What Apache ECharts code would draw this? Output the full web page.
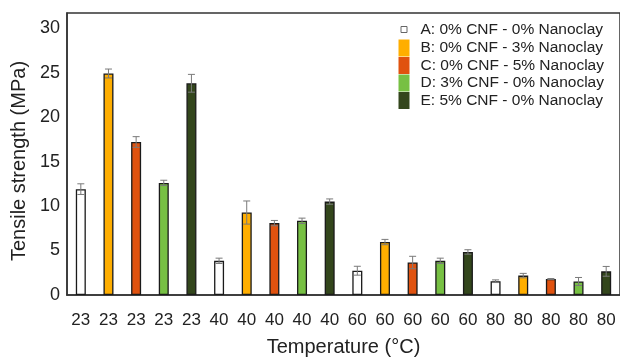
<!DOCTYPE html>
<html>
<head>
<meta charset="utf-8">
<script src="https://cdn.jsdelivr.net/npm/echarts@6/dist/echarts.min.js"></script>
<style>
html,body{margin:0;padding:0;background:#fff;}
#chart{width:620px;height:362px;}
</style>
</head>
<body>
<div id="chart"></div>
<script>
// Temperatures (°C) and groups
const temperatures = ['23', '40', '60', '80'];
const groupNames = [
  'A: 0% CNF - 0% Nanoclay',
  'B: 0% CNF - 3% Nanoclay',
  'C: 0% CNF - 5% Nanoclay',
  'D: 3% CNF - 0% Nanoclay',
  'E: 5% CNF - 0% Nanoclay'
];
// Tensile strength (MPa), one value per temperature
const valuesA = [11.9, 3.84, 2.73, 1.55];
const valuesB = [24.9, 9.27, 5.95, 2.18];
const valuesC = [17.2, 8.08, 3.65, 1.8];
const valuesD = [12.6, 8.34, 3.84, 1.52];
const valuesE = [23.8, 10.5, 4.84, 2.66];
// Error (± MPa)
const errorsA = [0.6, 0.3, 0.5, 0.15];
const errorsB = [0.5, 1.3, 0.3, 0.25];
const errorsC = [0.6, 0.3, 0.7, 0.05];
const errorsD = [0.3, 0.3, 0.3, 0.45];
const errorsE = [1.0, 0.3, 0.25, 0.55];
// y ticks
const yTicks = [0, 5, 10, 15, 20, 25, 30];

const colors = ['#ffffff', '#FFAE00', '#E0520F', '#77C043', '#33461C'];
const allValues = [valuesA, valuesB, valuesC, valuesD, valuesE];
const allErrors = [errorsA, errorsB, errorsC, errorsD, errorsE];
const nG = groupNames.length;

// categories: one per bar, ordered by temperature then group
const categories = [];
temperatures.forEach(t => groupNames.forEach(() => categories.push(t)));

const font = 'Arial, "Liberation Sans", Helvetica, sans-serif';

const barSeries = groupNames.map((name, gi) => ({
  name: name,
  type: 'bar',
  barWidth: 10,
  barGap: '-100%',
  z: 2,
  itemStyle: { color: colors[gi], borderColor: '#1a1a1a', borderWidth: 1.3 },
  data: categories.map((c, i) => (i % nG === gi ? allValues[gi][Math.floor(i / nG)] : '-'))
}));

const errData = [];
categories.forEach((c, i) => {
  const gi = i % nG, ti = Math.floor(i / nG);
  errData.push([i, allValues[gi][ti], allErrors[gi][ti]]);
});

const errSeries = {
  type: 'custom',
  z: 5,
  silent: true,
  data: errData,
  encode: { x: 0, y: 1 },
  renderItem: function (params, api) {
    const x = api.value(0), v = api.value(1), e = api.value(2);
    const hi = api.coord([x, v + e]);
    const lo = api.coord([x, v - e]);
    const hw = 3.5;
    const style = { stroke: '#7a7a7a', lineWidth: 1, fill: null };
    return {
      type: 'group',
      children: [
        { type: 'line', shape: { x1: hi[0], y1: hi[1], x2: lo[0], y2: lo[1] }, style: style },
        { type: 'line', shape: { x1: hi[0] - hw, y1: hi[1], x2: hi[0] + hw, y2: hi[1] }, style: style },
        { type: 'line', shape: { x1: lo[0] - hw, y1: lo[1], x2: lo[0] + hw, y2: lo[1] }, style: style }
      ]
    };
  }
};

const legendData = groupNames.map((name, gi) => gi === 0
  ? { name: name, icon: 'path://M0,0 M11,17 M2.5,5 h6 v6 h-6 z', itemStyle: { color: '#fff', borderColor: '#666', borderWidth: 1 } }
  : { name: name, icon: 'rect', itemStyle: { color: colors[gi], borderWidth: 0 } });

const chart = echarts.init(document.getElementById('chart'), null, { renderer: 'canvas' });
chart.setOption({
  animation: false,
  backgroundColor: '#fff',
  textStyle: { fontFamily: font },
  grid: { left: 67, right: -2, top: 13, bottom: 62, show: true, borderColor: '#333', borderWidth: 1.5, containLabel: false },
  legend: {
    orient: 'vertical',
    left: 398,
    top: 21,
    itemWidth: 11,
    itemHeight: 17,
    itemGap: 0.5,
    padding: 0,
    textStyle: { fontFamily: font, fontSize: 15.5, color: '#222', padding: [0, 0, 0, 6] },
    data: legendData
  },
  xAxis: {
    type: 'category',
    data: categories,
    name: 'Temperature (°C)',
    nameLocation: 'middle',
    nameGap: 42,
    nameTextStyle: { fontFamily: font, fontSize: 20, color: '#222' },
    axisLine: { show: true, lineStyle: { color: '#333', width: 1.5 } },
    axisTick: { show: false },
    axisLabel: { interval: 0, fontFamily: font, fontSize: 17, color: '#222', margin: 17 }
  },
  yAxis: {
    type: 'value',
    min: 0,
    max: 31.7,
    interval: 5,
    name: 'Tensile strength (MPa)',
    nameLocation: 'middle',
    nameGap: 31,
    nameTextStyle: { fontFamily: font, fontSize: 20, color: '#222', padding: [0, 14, 0, 0] },
    axisLine: { show: true, lineStyle: { color: '#333', width: 1.5 } },
    axisTick: { show: false },
    splitLine: { show: false },
    axisLabel: {
      fontFamily: font, fontSize: 18, color: '#222', margin: 7,
      formatter: v => (yTicks.indexOf(v) >= 0 ? String(v) : '')
    }
  },
  series: barSeries.concat([errSeries])
});
</script>
</body>
</html>
